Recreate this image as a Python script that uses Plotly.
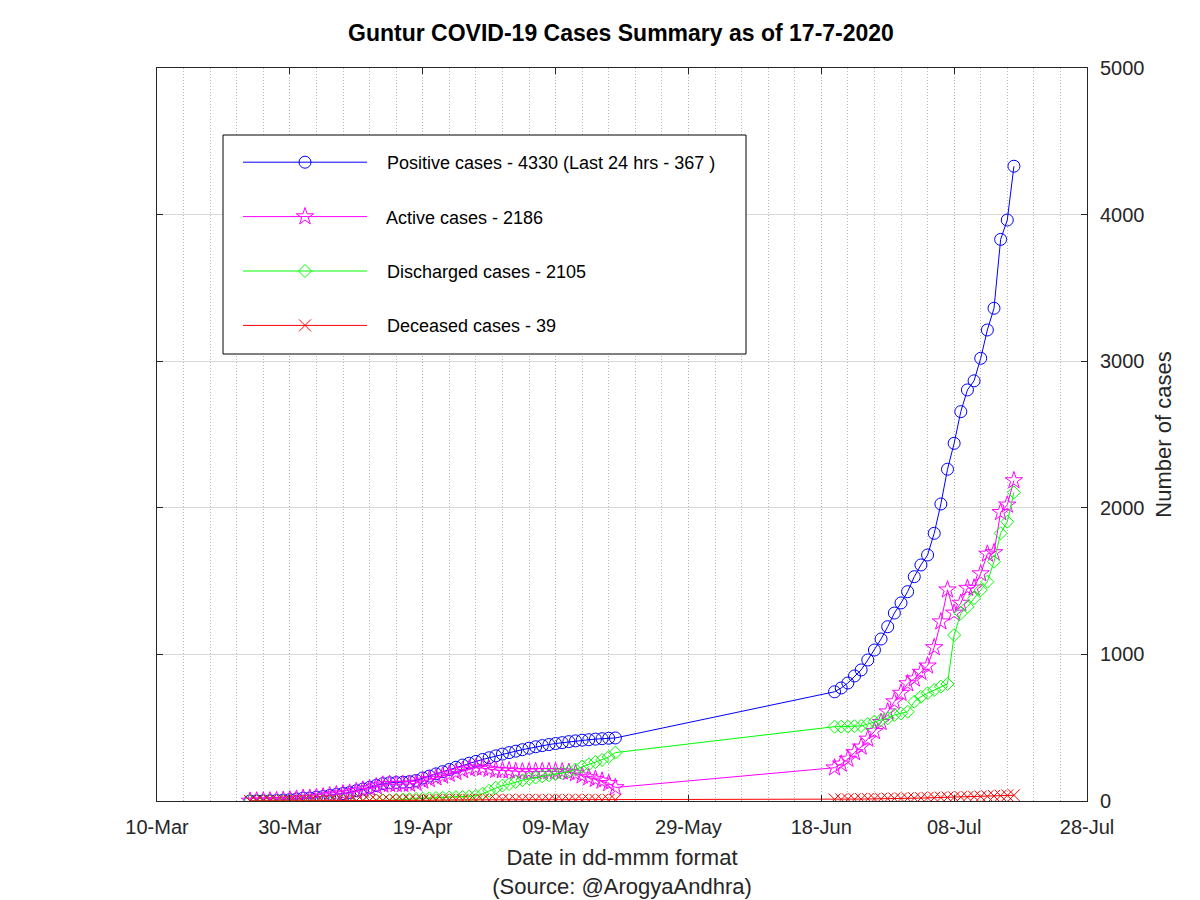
import pandas as pd
import plotly.graph_objects as go

# ---- data ----
dates_phase1 = pd.date_range("2020-03-24", "2020-05-18", freq="D")
dates_phase2 = pd.date_range("2020-06-20", "2020-07-17", freq="D")
dates = list(dates_phase1) + list(dates_phase2)

positive = [0, 1, 1, 2, 4, 6, 9, 14, 20, 20, 26, 30, 38, 45, 51, 58, 70, 82, 93,
            106, 118, 124, 126, 128, 132, 140, 157, 170, 185, 200, 215, 230, 245, 258,
            270, 283, 295, 308, 320, 330, 340, 350, 360, 370, 378, 385, 392, 398, 405,
            410, 415, 418, 422, 425, 428, 430,
            745, 771, 805, 853, 894, 962, 1030, 1105, 1189, 1282, 1351, 1428, 1530,
            1610, 1678, 1826, 2026, 2263, 2440, 2656, 2804, 2866, 3020, 3213, 3361,
            3831, 3963, 4330]

active = [0, 1, 1, 2, 4, 6, 9, 14, 20, 20, 26, 29, 37, 44, 50, 55, 66, 76, 86,
          98, 110, 115, 114, 114, 116, 122, 137, 147, 159, 171, 183, 196, 209, 220,
          227, 225, 217, 210, 207, 207, 202, 200, 200, 202, 202, 202, 201, 200, 197,
          187, 172, 160, 149, 137, 120, 92,
          227, 253, 286, 331, 369, 423, 475, 537, 609, 678, 736, 801, 834,
          879, 922, 1047, 1223, 1441, 1283, 1350, 1452, 1454, 1551, 1685, 1695,
          1969, 2020, 2186]

discharged = [0, 0, 0, 0, 0, 0, 0, 0, 0, 0, 0, 0, 0, 0, 0, 1, 2, 3, 4,
              4, 4, 5, 8, 10, 12, 14, 16, 18, 20, 22, 24, 26, 28, 30,
              35, 50, 70, 90, 105, 115, 130, 142, 152, 160, 168, 175, 183, 190, 200,
              215, 235, 250, 265, 280, 300, 330,
              507, 507, 507, 510, 512, 525, 541, 553, 564, 587, 598, 609, 677,
              711, 735, 757, 780, 798, 1132, 1280, 1325, 1383, 1439, 1496, 1632,
              1826, 1905, 2105]

deceased = [0, 0, 0, 0, 0, 0, 0, 0, 0, 0, 0, 1, 1, 1, 1, 2, 2, 3, 3,
            4, 4, 4, 4, 4, 4, 4, 4, 5, 6, 7, 8, 8, 8, 8,
            8, 8, 8, 8, 8, 8, 8, 8, 8, 8, 8, 8, 8, 8, 8,
            8, 8, 8, 8, 8, 8, 8,
            11, 11, 12, 12, 13, 14, 14, 15, 16, 17, 17, 18, 19,
            20, 21, 22, 23, 24, 25, 26, 27, 29, 30, 32, 34,
            36, 38, 39]

series_names = ["Positive cases - 4330 (Last 24 hrs - 367 )",
                "Active cases - 2186",
                "Discharged cases - 2105",
                "Deceased cases - 39"]
series_values = [positive, active, discharged, deceased]
series_colors = ["#0000ff", "#ff00ff", "#00ff00", "#ff0000"]
series_symbols = ["circle-open", "star-open", "diamond-open", "x-thin-open"]
series_sizes = [12, 13, 10, 12]

x_ticks = pd.date_range("2020-03-10", "2020-07-28", freq="20D")

title_text = "Guntur COVID-19 Cases Summary as of 17-7-2020"
x_title = "Date in dd-mmm format<br>(Source: @ArogyaAndhra)"
y_title = "Number of cases"

FONT = "Liberation Sans, Arial, sans-serif"

fig = go.Figure()
for i, (name, vals, col, sym, sz) in enumerate(zip(series_names, series_values,
                                                  series_colors, series_symbols,
                                                  series_sizes)):
    fig.add_trace(go.Scatter(
        x=dates, y=vals, name="   " + name, mode="lines+markers",
        line=dict(color=col, width=1),
        marker=dict(symbol=sym, size=sz, color=col, line=dict(color=col, width=1)),
        legendgroup=f"g{i}",
    ))

OFF = 8  # page margin of the html body
L, R, T, B = 149, 121, 60, 107
PW, PH = 1200 - L - R, 900 - T - B


def px_x(px):
    return (px - OFF - L) / PW


def px_y(py):
    return (900 - B - (py - OFF)) / PH


# legend frame
fig.add_shape(type="rect", xref="paper", yref="paper",
              x0=px_x(223), x1=px_x(746), y0=px_y(354), y1=px_y(135),
              line=dict(color="#000000", width=1), fillcolor="#ffffff", layer="above")

fig.update_layout(
    width=1200, height=900,
    margin=dict(l=L, r=R, t=T, b=B, autoexpand=False),
    paper_bgcolor="white", plot_bgcolor="white",
    font=dict(family=FONT, size=20, color="#000000"),
    title=dict(text=f"<b>{title_text}</b>", x=px_x(621), xanchor="center",
               xref="paper",
               y=1 - 25 / 900, yanchor="middle",
               font=dict(family=FONT, size=23, color="#000000")),
    showlegend=True,
    legend=dict(x=px_x(238), y=px_y(144), xanchor="left", yanchor="top",
                bgcolor="rgba(0,0,0,0)", borderwidth=0,
                font=dict(family=FONT, size=18, color="#000000"),
                itemwidth=124, tracegroupgap=28, itemclick=False),
    xaxis=dict(
        type="date",
        range=["2020-03-10", "2020-07-28"],
        tickvals=list(x_ticks), tickformat="%d-%b",
        ticks="inside", ticklen=6, tickcolor="#262626",
        showline=True, linecolor="#262626", linewidth=1, mirror="allticks",
        showgrid=True, gridcolor="#b0b0b0", griddash="1px,2px", gridwidth=1,
        minor=dict(dtick=4 * 86400000, tick0="2020-03-10", showgrid=True,
                   gridcolor="#b8b8b8", griddash="1px,2px", gridwidth=1, ticks=""),
        zeroline=False,
        ticklabelstandoff=8,
        tickfont=dict(family=FONT, size=20, color="#262626"),
        title=dict(text=x_title, standoff=12,
                   font=dict(family=FONT, size=22, color="#262626")),
    ),
    yaxis=dict(
        side="right",
        range=[0, 5000], dtick=1000,
        ticks="inside", ticklen=6, tickcolor="#262626",
        showline=True, linecolor="#262626", linewidth=1, mirror="allticks",
        showgrid=True, gridcolor="#d9d9d9", gridwidth=1,
        zeroline=False,
        ticklabelstandoff=8,
        tickfont=dict(family=FONT, size=20, color="#262626"),
        title=dict(text=y_title, standoff=12,
                   font=dict(family=FONT, size=22, color="#262626")),
    ),
)

fig.write_html("out.html")
